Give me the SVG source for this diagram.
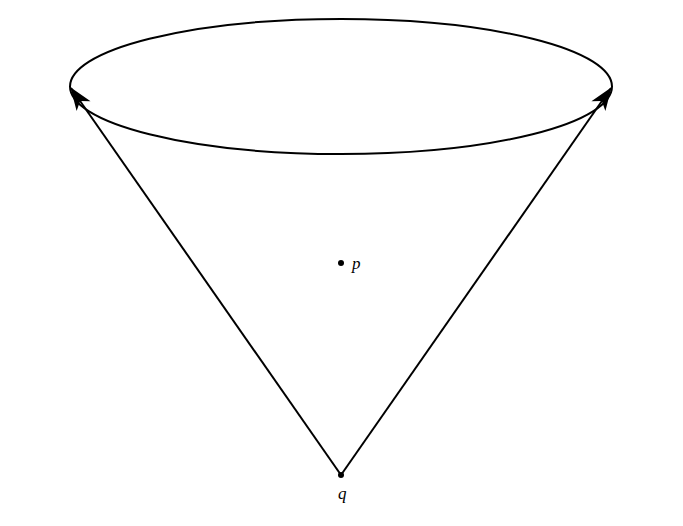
<svg xmlns="http://www.w3.org/2000/svg" width="683" height="526" viewBox="0 0 683 526">
<style>
.ln{fill:none;stroke:#000;stroke-width:2}
.lbl{font-family:"Liberation Serif",serif;font-style:italic;font-size:17px;fill:#000}
</style>
<defs>
<marker id="ah" viewBox="-24 -10 26 20" refX="0" refY="0" markerWidth="26" markerHeight="20" markerUnits="userSpaceOnUse" orient="auto">
<path d="M1,0 L-22,-8.5 L-16,0 L-22,8.5 Z" fill="#000"/>
</marker>
</defs>
<rect width="683" height="526" fill="#fff"/>
<g id="ellipse"><ellipse class="ln" cx="341" cy="86.5" rx="271" ry="67.5"/></g>
<g id="connectors">
<line class="ln" x1="341" y1="475" x2="71" y2="88" marker-end="url(#ah)"/>
<line class="ln" x1="341" y1="475" x2="611" y2="88" marker-end="url(#ah)"/>
</g>
<g id="p"><circle cx="341" cy="263" r="3" fill="#000"/><text class="lbl" x="352" y="269">p</text></g>
<g id="q"><circle cx="341" cy="475" r="3" fill="#000"/><text class="lbl" x="338" y="499">q</text></g>
</svg>
